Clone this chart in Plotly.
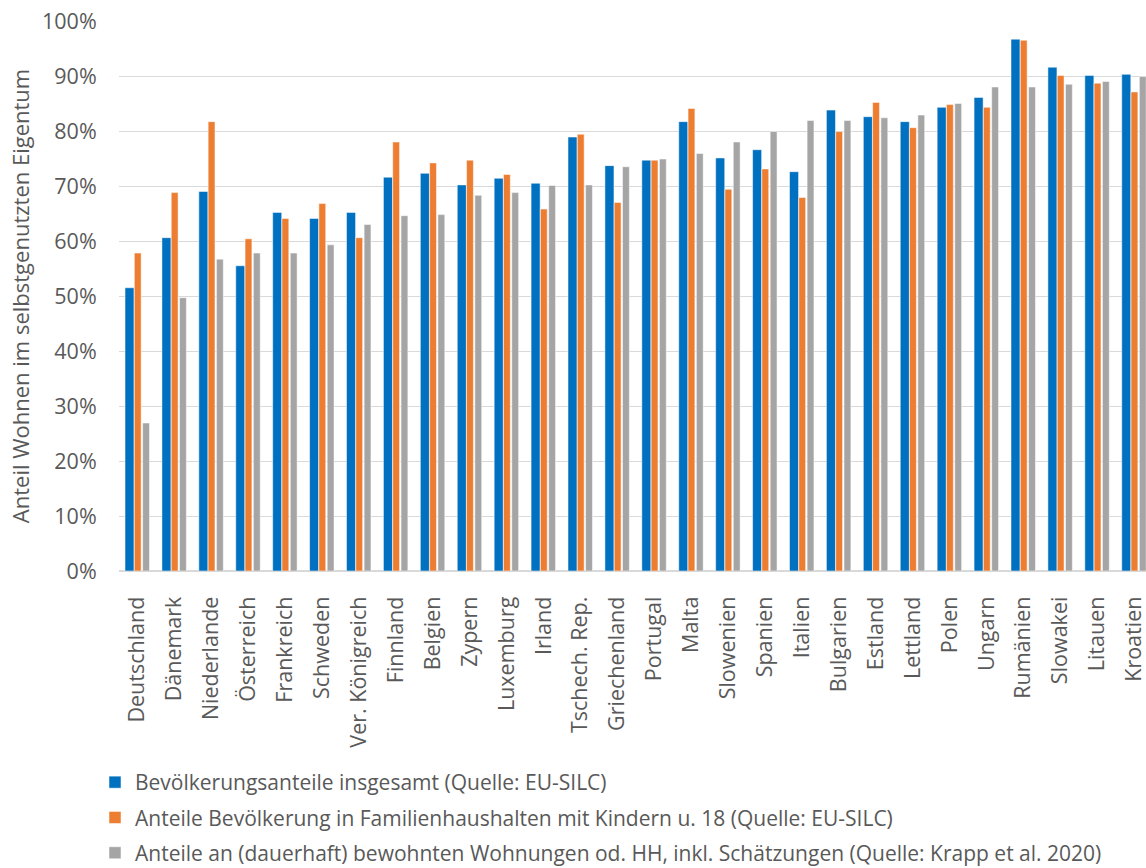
import plotly.graph_objects as go

# Länder in Reihenfolge der Darstellung
laender = [
    "Deutschland", "Dänemark", "Niederlande", "Österreich", "Frankreich",
    "Schweden", "Ver. Königreich", "Finnland", "Belgien", "Zypern",
    "Luxemburg", "Irland", "Tschech. Rep.", "Griechenland", "Portugal",
    "Malta", "Slowenien", "Spanien", "Italien", "Bulgarien", "Estland",
    "Lettland", "Polen", "Ungarn", "Rumänien", "Slowakei", "Litauen",
    "Kroatien",
]

# Eigentumsquoten in Prozent
insgesamt = [
    51.5, 60.6, 69.0, 55.5, 65.2, 64.1, 65.2, 71.6, 72.3, 70.2,
    71.4, 70.5, 78.9, 73.7, 74.7, 81.7, 75.1, 76.6, 72.6, 83.8, 82.6,
    81.7, 84.3, 86.1, 96.7, 91.6, 90.1, 90.3,
]
familien = [
    57.8, 68.8, 81.7, 60.4, 64.1, 66.8, 60.6, 78.0, 74.2, 74.7,
    72.1, 65.8, 79.4, 67.0, 74.7, 84.1, 69.4, 73.1, 67.9, 79.9, 85.2,
    80.6, 84.8, 84.3, 96.5, 90.1, 88.7, 87.1,
]
wohnungen = [
    26.9, 49.7, 56.7, 57.8, 57.8, 59.3, 63.0, 64.6, 64.8, 68.3,
    68.8, 70.1, 70.2, 73.5, 74.9, 75.9, 78.0, 79.9, 81.9, 81.9, 82.4,
    82.9, 85.0, 88.0, 88.0, 88.5, 89.0, 89.9,
]

# y-Achse
y_ticks = [0, 10, 20, 30, 40, 50, 60, 70, 80, 90, 100]
y_labels = [f"{v}%" for v in y_ticks]

serien = [
    ("Bevölkerungsanteile insgesamt (Quelle: EU-SILC)", insgesamt,
     "#0070C0", -0.337, 0.245),
    ("Anteile Bevölkerung in Familienhaushalten mit Kindern u. 18 (Quelle: EU-SILC)",
     familien, "#ED7D31", -0.085, 0.185),
    ("Anteile an (dauerhaft) bewohnten Wohnungen od. HH, inkl. Schätzungen (Quelle: Krapp et al. 2020)",
     wohnungen, "#A5A5A5", 0.14, 0.185),
]

fig = go.Figure()
for i, (name, werte, farbe, off, breite) in enumerate(serien):
    fig.add_trace(go.Bar(
        x=list(range(len(laender))),
        y=werte,
        name=name,
        marker=dict(color=farbe, line=dict(color="white", width=0.5)),
        offset=off,
        width=breite,
        legendgroup=f"g{i}",
        hoverinfo="skip",
    ))

text_col = "#595959"
fig.update_layout(
    width=1146, height=868,
    margin=dict(l=119, r=0, t=21, b=297, autoexpand=False),
    paper_bgcolor="white", plot_bgcolor="white",
    barmode="overlay",
    font=dict(family="Open Sans", color=text_col, size=21),
    showlegend=True,
    legend=dict(
        orientation="v",
        x=(95 - 119) / 1027, xanchor="left",
        y=(571 - 762) / 550, yanchor="top",
        font=dict(family="Open Sans", size=21, color=text_col),
        traceorder="grouped",
        tracegroupgap=5,
        bgcolor="rgba(0,0,0,0)",
    ),
    xaxis=dict(
        range=[-0.5, 27.32],
        tickmode="array",
        tickvals=list(range(len(laender))),
        ticktext=laender,
        tickangle=-90,
        tickfont=dict(size=21.5, color=text_col),
        ticklabeloverflow="allow",
        showgrid=False,
        showline=False,
        ticks="outside",
        ticklen=16,
        tickcolor="rgba(0,0,0,0)",
        zeroline=False,
    ),
    yaxis=dict(
        range=[0, 100],
        tickmode="array",
        tickvals=y_ticks,
        ticktext=y_labels,
        tickfont=dict(size=21.5, color=text_col),
        showgrid=True,
        gridcolor="#D9D9D9",
        gridwidth=1,
        zeroline=True,
        zerolinecolor="#D9D9D9",
        zerolinewidth=1.5,
        ticks="outside",
        ticklen=17,
        tickcolor="rgba(0,0,0,0)",
        title=dict(
            text="Anteil Wohnen im selbstgenutzten Eigentum",
            font=dict(size=22, color=text_col),
            standoff=6,
        ),
    ),
)

fig.write_html("out.html")
